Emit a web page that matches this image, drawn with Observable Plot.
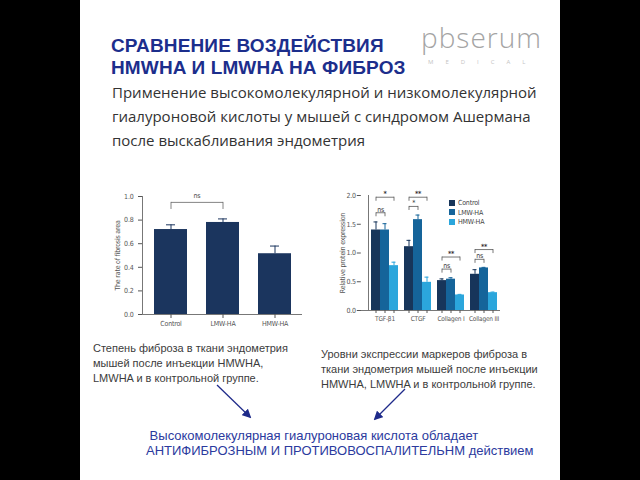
<!DOCTYPE html>
<html><head><meta charset="utf-8">
<script src="https://cdn.jsdelivr.net/npm/d3@7"></script>
<script src="https://cdn.jsdelivr.net/npm/@observablehq/plot@0.6"></script>
<style>
body{margin:0;background:#000;}
#page{position:relative;width:640px;height:480px;background:#000;overflow:hidden;}
#panel{position:absolute;left:80px;top:0;width:480px;height:480px;background:#fff;}
.abs{position:absolute;white-space:nowrap;}
.title{left:111px;font:700 19px/20px 'Liberation Sans',Arial,sans-serif;color:#1c2e8c;letter-spacing:0.15px;}
#title1{top:36px;}
#title2{top:58px;}
#logo{left:421px;top:22px;font:300 28px/30px 'Open Sans',sans-serif;color:#a4a4a4;letter-spacing:1px;}
#logosub{left:428px;top:59px;font:400 6px/7px 'Open Sans',sans-serif;color:#c4c4c4;letter-spacing:12px;}
#subtitle{left:112px;top:80px;font:400 15px/24px 'Open Sans',sans-serif;color:#333;}
.cap{font:400 11px/15px 'Liberation Sans',Arial,sans-serif;color:#3c3c3c;}
#capL{left:93px;top:341px;}
#capR{left:321px;top:347px;}
#concl{left:146px;top:428px;font:400 13px/15px 'Liberation Sans',Arial,sans-serif;color:#2b3a9e;}
#legend{left:449px;top:199px;font:400 7px/9.5px 'Liberation Sans Narrow','DejaVu Sans Condensed',sans-serif;color:#444;letter-spacing:-0.2px;}
#legend .sw{display:inline-block;width:6px;height:6px;margin-right:3px;vertical-align:-0.5px;}
.chart{position:absolute;}
</style></head><body>
<div id="page">
 <div id="panel"></div>
 <div class="abs title" id="title1">СРАВНЕНИЕ ВОЗДЕЙСТВИЯ</div>
 <div class="abs title" id="title2">HMWHA И LMWHA НА ФИБРОЗ</div>
 <div class="abs" id="logo">pbserum</div>
 <div class="abs" id="logosub">MEDICAL</div>
 <div class="abs" id="subtitle">Применение высокомолекулярной и низкомолекулярной<br>гиалуроновой кислоты у мышей с синдромом Ашермана<br>после выскабливания эндометрия</div>
 <div class="chart" id="chartL" style="left:100px;top:180px;"></div>
 <div class="chart" id="chartR" style="left:300px;top:180px;"></div>
 <div class="abs" id="legend"></div>
 <div class="abs cap" id="capL">Степень фиброза в ткани эндометрия<br>мышей после инъекции HMWHA,<br>LMWHA и в контрольной группе.</div>
 <div class="abs cap" id="capR">Уровни экспрессии маркеров фиброза в<br>ткани эндометрия мышей после инъекции<br>HMWHA, LMWHA и в контрольной группе.</div>
 <svg class="abs" style="left:0;top:0" width="640" height="480">
  <defs><marker id="ah" viewBox="0 0 10 10" refX="8" refY="5" markerWidth="7" markerHeight="7" orient="auto-start-reverse"><path d="M0,0L10,5L0,10z" fill="#1e2a8a"/></marker></defs>
  <line x1="217" y1="385" x2="250" y2="417" stroke="#1e2a8a" stroke-width="1.3" marker-end="url(#ah)"/>
  <line x1="405" y1="389" x2="375" y2="419" stroke="#1e2a8a" stroke-width="1.3" marker-end="url(#ah)"/>
 </svg>
 <div class="abs" id="concl">&nbsp;Высокомолекулярная гиалуроновая кислота обладает<br>АНТИФИБРОЗНЫМ И ПРОТИВОВОСПАЛИТЕЛЬНМ действием</div>
</div>
<script>
// ---- Chart 1: rate of fibrosis area ----
const fibrosisGroups = ["Control", "LMW-HA", "HMW-HA"];
const fibrosisValues = [0.72, 0.78, 0.515];
const fibrosisErrTop = [0.76, 0.81, 0.58];
const fibrosisTicks = [0, 0.2, 0.4, 0.6, 0.8, 1.0];
const fibrosisBrackets = [{from: "Control", to: "LMW-HA", y: 0.95, label: "ns"}];

// ---- Chart 2: relative protein expression ----
const markers = ["TGF-β1", "CTGF", "Collagen I", "Collagen III"];
const seriesNames = ["Control", "LMW-HA", "HMW-HA"];
const seriesColors = ["#17355a", "#15649a", "#2ba6dc"];
const controlValues = [1.40, 1.11, 0.52, 0.63];
const lmwValues = [1.40, 1.58, 0.545, 0.74];
const hmwValues = [0.78, 0.49, 0.27, 0.31];
const controlErrTop = [1.54, 1.22, 0.55, 0.71];
const lmwErrTop = [1.51, 1.66, 0.57, 0.75];
const hmwErrTop = [0.84, 0.58, 0.28, 0.32];
const expressionTicks = [0, 0.5, 1.0, 1.5, 2.0];
const markerBrackets = [
  {marker: "TGF-β1", from: "Control", to: "LMW-HA", y: 1.70, label: "ns"},
  {marker: "TGF-β1", from: "Control", to: "HMW-HA", y: 1.97, label: "*"},
  {marker: "CTGF", from: "Control", to: "LMW-HA", y: 1.81, label: "*"},
  {marker: "CTGF", from: "Control", to: "HMW-HA", y: 1.97, label: "**"},
  {marker: "Collagen I", from: "Control", to: "LMW-HA", y: 0.72, label: "ns"},
  {marker: "Collagen I", from: "Control", to: "HMW-HA", y: 0.93, label: "**"},
  {marker: "Collagen III", from: "Control", to: "LMW-HA", y: 0.89, label: "ns"},
  {marker: "Collagen III", from: "Control", to: "HMW-HA", y: 1.06, label: "**"}
];

const smallFont = "'Liberation Sans Narrow','DejaVu Sans Condensed',sans-serif";

// Chart 1
const fib = fibrosisGroups.map((g, i) => ({group: g, value: fibrosisValues[i], err: fibrosisErrTop[i]}));
const fibEnds = fibrosisBrackets.flatMap(b => [{s: b.from, y: b.y}, {s: b.to, y: b.y}]);
const barNavy = "#1b355e";
const chartL = Plot.plot({
  width: 205, height: 160, marginLeft: 42, marginRight: 3, marginTop: 16, marginBottom: 26,
  style: {fontFamily: smallFont, fontSize: "7px", color: "#555", background: "transparent", overflow: "visible", letterSpacing: "-0.2px"},
  x: {domain: fibrosisGroups, paddingInner: 0.37, paddingOuter: 0.21, label: null},
  y: {domain: [0, 1], label: "The rate of fibrosis area"},
  marks: [
    Plot.barY(fib, {x: "group", y: "value", fill: barNavy}),
    Plot.ruleX(fib, {x: "group", y1: "value", y2: "err", stroke: barNavy, strokeWidth: 1}),
    Plot.tickY(fib, {x: "group", y: "err", stroke: barNavy, insetLeft: 12, insetRight: 12}),
    Plot.link(fibrosisBrackets, {x1: "from", x2: "to", y1: "y", y2: "y", stroke: "#666", strokeWidth: 0.8}),
    Plot.ruleX(fibEnds, {x: "s", y1: d => d.y - 0.06, y2: "y", stroke: "#666", strokeWidth: 0.8}),
    Plot.text(fibrosisBrackets, {x: "from", y: "y", text: "label", dx: 26, dy: -4, lineAnchor: "bottom", fill: "#444"}),
    Plot.ruleY([0], {stroke: "#777"}),
    Plot.frame({anchor: "left", stroke: "#777"}),
    Plot.axisY({ticks: fibrosisTicks, tickFormat: ".1f", tickSize: 4, label: "The rate of fibrosis area", labelAnchor: "center", labelOffset: 27, labelArrow: "none"}),
    Plot.axisX({tickSize: 4, tickPadding: 3, label: null})
  ]
});
document.getElementById("chartL").appendChild(chartL);

// Chart 2
const valueSets = [controlValues, lmwValues, hmwValues];
const errSets = [controlErrTop, lmwErrTop, hmwErrTop];
const rows = markers.flatMap((m, i) => seriesNames.map((s, j) => ({marker: m, series: s, value: valueSets[j][i], err: errSets[j][i]})));
const bEnds = markerBrackets.flatMap(b => [{marker: b.marker, s: b.from, y: b.y}, {marker: b.marker, s: b.to, y: b.y}]);
const adjacent = markerBrackets.filter(b => seriesNames.indexOf(b.to) - seriesNames.indexOf(b.from) === 1);
const spanning = markerBrackets.filter(b => seriesNames.indexOf(b.to) - seriesNames.indexOf(b.from) === 2)
  .map(b => ({...b, mid: seriesNames[seriesNames.indexOf(b.from) + 1]}));
const brk = "#555";
const fxPadOuter = 0.214;
const wR = 220, mlR = 59, mrR = 12;
const facetOffset = fxPadOuter * (wR - mlR - mrR) / (markers.length + 2 * fxPadOuter);
const chartR = Plot.plot({
  width: wR, height: 150, marginLeft: mlR, marginRight: mrR, marginTop: 15, marginBottom: 20,
  style: {fontFamily: smallFont, fontSize: "7px", color: "#555", background: "transparent", overflow: "visible", letterSpacing: "-0.2px"},
  fx: {domain: markers, paddingInner: 0, paddingOuter: fxPadOuter, label: null},
  x: {domain: seriesNames, paddingInner: 0, paddingOuter: 0.3, label: null},
  y: {domain: [0, 2], label: "Relative protein expression"},
  color: {domain: seriesNames, range: seriesColors},
  marks: [
    Plot.barY(rows, {fx: "marker", x: "series", y: "value", fill: "series"}),
    Plot.ruleX(rows, {fx: "marker", x: "series", y1: "value", y2: "err", stroke: "series"}),
    Plot.tickY(rows, {fx: "marker", x: "series", y: "err", stroke: "series", insetLeft: 2.5, insetRight: 2.5}),
    Plot.link(markerBrackets, {fx: "marker", x1: "from", x2: "to", y1: "y", y2: "y", stroke: brk, strokeWidth: 0.8}),
    Plot.ruleX(bEnds, {fx: "marker", x: "s", y1: d => d.y - 0.07, y2: "y", stroke: brk, strokeWidth: 0.8}),
    Plot.text(adjacent, {fx: "marker", x: "from", y: "y", text: "label", dx: 4.7, dy: -1, lineAnchor: "bottom", fill: "#333"}),
    Plot.text(spanning, {fx: "marker", x: "mid", y: "y", text: "label", dy: -1, lineAnchor: "bottom", fill: "#333", fontWeight: "bold"}),
    Plot.ruleY([0], {stroke: "#777", insetLeft: -Math.ceil(facetOffset) - 1}),
    Plot.frame({anchor: "left", stroke: "#777", facet: "super"}),
    Plot.axisY({ticks: expressionTicks, tickFormat: ".1f", tickSize: 4, tickPadding: 1.5, dx: -facetOffset, label: "Relative protein expression", labelAnchor: "center", labelOffset: 28, labelArrow: "none"}),
    Plot.axisX({tickSize: 3, tickFormat: () => "", label: null}),
    Plot.axisFx({anchor: "bottom", tickSize: 0, tickPadding: 6, label: null, fontSize: 6.5})
  ]
});
document.getElementById("chartR").appendChild(chartR);

// Legend
const legend = document.getElementById("legend");
seriesNames.forEach((s, i) => {
  const row = document.createElement("div");
  row.innerHTML = `<span class="sw" style="background:${seriesColors[i]}"></span>${s}`;
  legend.appendChild(row);
});
</script>
</body></html>
